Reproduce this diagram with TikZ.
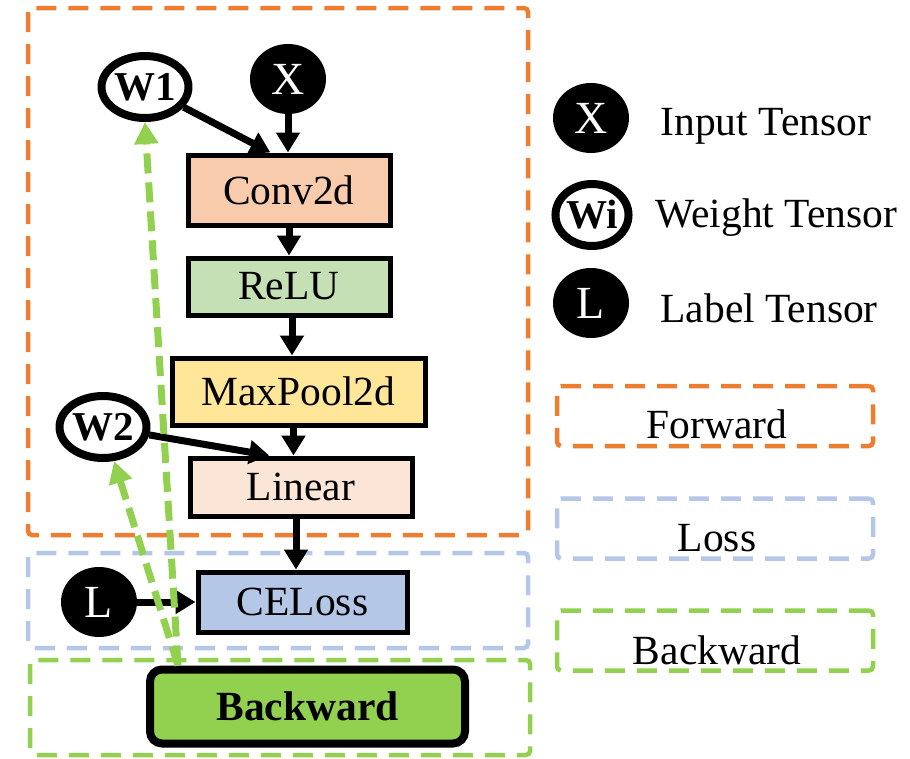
\documentclass[tikz,border=0pt]{standalone}
\usepackage{fontspec}
\setmainfont{Liberation Serif}
\usetikzlibrary{arrows.meta,shapes.geometric,calc}

\definecolor{fwdorange}{HTML}{ED7D31}
\definecolor{lossblue}{HTML}{B4C7E7}
\definecolor{bwdgreen}{HTML}{92D050}
\definecolor{convfill}{HTML}{F8CBAD}
\definecolor{relufill}{HTML}{C5E0B4}
\definecolor{poolfill}{HTML}{FFE699}
\definecolor{linfill}{HTML}{FBE5D6}

\begin{document}
\begin{tikzpicture}[x=1pt,y=-1pt,
  lbl/.style={font=\fontsize{41.5}{48}\selectfont},
  layer/.style={draw=black,line width=5pt,inner sep=0pt,lbl},
  tensor/.style={ellipse,draw=black,line width=8pt,inner sep=0pt,
    minimum width=68pt,minimum height=62pt},
  datatensor/.style={tensor,fill=black,text=white,font=\fontsize{46}{52}\selectfont},
  weighttensor/.style={tensor,fill=white,font=\fontsize{41}{48}\selectfont\bfseries},
  arr/.style={line width=7pt,-{Triangle[length=20pt,width=23pt]}},
  backarr/.style={draw=bwdgreen,line width=7pt,dash pattern=on 20pt off 9pt,
    -{Triangle[length=22pt,width=23pt]}},
  group/.style={line width=4.5pt,dash pattern=on 20pt off 12pt,rounded corners=4pt},
  legbox/.style={draw,line width=4.5pt,dash pattern=on 20pt off 12pt,rounded corners=4pt,
    minimum width=316pt,minimum height=60pt,inner sep=0pt}
]
\useasboundingbox (0,0) rectangle (910,758);

% stage frames
\draw[group,fwdorange] (28,8) rectangle (528,535);
\draw[group,lossblue] (28,553) rectangle (528,648);
\draw[group,bwdgreen] (30,660) rectangle (530,755);

% layers
\node[layer,fill=convfill,minimum width=202pt,minimum height=70pt] (conv) at (289,190) {Conv2d};
\node[layer,fill=relufill,minimum width=202pt,minimum height=57pt] (relu) at (289,286.5) {ReLU};
\node[layer,fill=poolfill,minimum width=253pt,minimum height=67pt] (pool) at (298.5,391.5) {MaxPool2d};
\node[layer,fill=linfill,minimum width=222pt,minimum height=58pt] (lin) at (301,487) {Linear};
\node[layer,fill=lossblue,minimum width=209pt,minimum height=60pt] (ce) at (302.5,602) {CELoss};
\node[layer,fill=bwdgreen,line width=8pt,rounded corners=12pt,minimum width=315pt,
  minimum height=74pt,font=\fontsize{41.5}{48}\selectfont\bfseries] (bw) at (307.5,706.5) {Backward};

% tensors
\node[datatensor] (x) at (288,79) {X};
\node[weighttensor] (w1) at (145,87) {W1};
\node[weighttensor] (w2) at (103,427) {W2};
\node[datatensor] (l) at (99,602) {L};

% forward data flow
\draw[arr] (x.south) -- (x.south |- conv.north);
\draw[arr] (w1) -- ($(conv.north west)!0.41!(conv.north east)$);
\draw[arr] (conv.south) -- (relu.north);
\draw[arr] ([xshift=3pt]relu.south) -- ([xshift=3pt]relu.south |- pool.north);
\draw[arr] ([xshift=-5pt]pool.south) -- ([xshift=-5pt]pool.south |- lin.north);
\draw[arr] (w2) -- ($(lin.north west)!0.36!(lin.north east)$);
\draw[arr] ([xshift=-5pt]lin.south) -- ([xshift=-5pt]lin.south |- ce.north);
\draw[arr] (l) -- (ce.west);

% gradient flow
\coordinate (bstart) at ($(bw.north west)+(32,0)$);
\draw[backarr] (bstart) -- (w1.south);
\draw[backarr] (bstart) -- (w2.-72);

% legend
\node[datatensor] (lx) at (591,118) {X};
\node[lbl,anchor=base west] (lxt) at (657,135) {Input Tensor};
\node[weighttensor] (lw) at (592,215) {Wi};
\node[lbl,anchor=base west] (lwt) at (652,227) {Weight Tensor};
\node[datatensor] (ll) at (591,303) {L};
\node[lbl,anchor=base west] (llt) at (657,322) {Label Tensor};

\node[legbox,draw=fwdorange] (lf) at (715,416) {};
\node[lbl,anchor=base] at (717,438) {Forward};
\node[legbox,draw=lossblue] (lloss) at (715,528.5) {};
\node[lbl,anchor=base] at (717,551) {Loss};
\node[legbox,draw=bwdgreen] (lb) at (715,640.5) {};
\node[lbl,anchor=base] at (717,664) {Backward};
\end{tikzpicture}
\end{document}
